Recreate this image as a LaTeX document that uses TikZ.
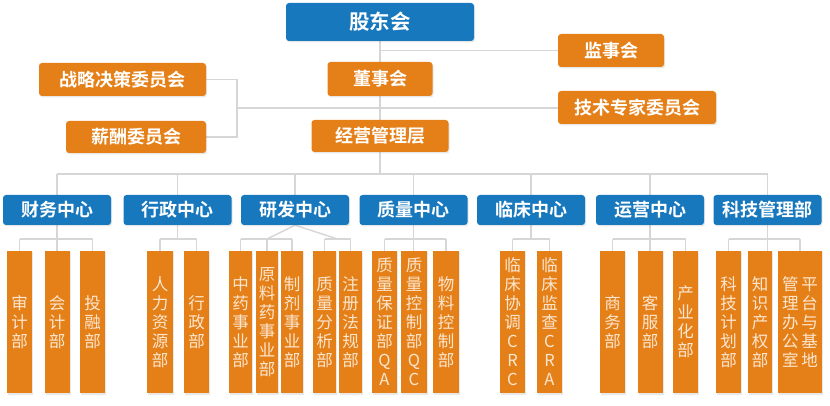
\documentclass[tikz,border=0pt]{standalone}
\usepackage{fontspec}
\newfontfamily\cjk{Noto Sans CJK SC}[BoldFont={Noto Sans CJK SC Bold}]
\usetikzlibrary{shadows,backgrounds,calc}
\definecolor{bl}{HTML}{1878BE}
\definecolor{orb}{HTML}{E58019}
\definecolor{ln}{HTML}{D6D6D6}
\definecolor{lt}{HTML}{FCE6CF}
\begin{document}
\begin{tikzpicture}[x=1pt,y=-1pt,
  shd/.style={drop shadow={shadow xshift=1pt,shadow yshift=-1.5pt,opacity=0.18}},
  box/.style={rounded corners=3pt, inner sep=0pt, text=white, shd,
    font=\cjk\bfseries\fontsize{18}{21}\selectfont},
  bbox/.style={box, fill=bl},
  obox/.style={box, fill=orb},
  cbox/.style={bbox, minimum width=108pt, minimum height=30pt},
  sbox/.style={fill=orb, inner sep=0pt, text=lt, align=center, shd,
    font=\cjk\fontsize{16.5}{19}\selectfont, minimum height=142pt},
  conn/.style={draw=ln, line width=1.4pt}]
\useasboundingbox (0,0) rectangle (830,406);
% top level
\node[bbox, minimum width=188pt, minimum height=38pt,
  font=\cjk\bfseries\fontsize{20.5}{24}\selectfont] (gdh) at (380,22) {股东会};
\node[obox, minimum width=106pt, minimum height=33pt] (jsh) at (611,50.5) {监事会};
\node[obox, minimum width=105pt, minimum height=34pt] (dsh) at (380,79) {董事会};
\node[obox, minimum width=167pt, minimum height=33pt] (zl) at (122.5,79.5) {战略决策委员会};
\node[obox, minimum width=158pt, minimum height=33pt] (jsw) at (637,107.5) {技术专家委员会};
\node[obox, minimum width=140pt, minimum height=32pt] (xc) at (136,137) {薪酬委员会};
\node[obox, minimum width=137pt, minimum height=32pt] (jy) at (380,136) {经营管理层};
% centres
\node[cbox] (c1) at (57,210) {财务中心};
\node[cbox] (c2) at (177.5,210) {行政中心};
\node[cbox] (c3) at (295,210) {研发中心};
\node[cbox] (c4) at (413.5,210) {质量中心};
\node[cbox] (c5) at (531,210) {临床中心};
\node[cbox] (c6) at (650,210) {运营中心};
\node[cbox] (c7) at (767.5,210) {科技管理部};
% departments
\node[sbox, minimum width=25pt] (s11) at (19.5,322) {审\\计\\部};
\node[sbox, minimum width=25pt] (s12) at (57,322) {会\\计\\部};
\node[sbox, minimum width=25pt] (s13) at (92.5,322) {投\\融\\部};
\node[sbox, minimum width=26pt] (s21) at (160,322) {人\\力\\资\\源\\部};
\node[sbox, minimum width=25pt] (s22) at (196.5,322) {行\\政\\部};
\node[sbox, minimum width=23pt] (s31) at (240.5,322) {中\\药\\事\\业\\部};
\node[sbox, minimum width=22pt] (s32) at (267,322) {原\\料\\药\\事\\业\\部};
\node[sbox, minimum width=22pt] (s33) at (292,322) {制\\剂\\事\\业\\部};
\node[sbox, minimum width=23pt] (s34) at (324.5,322) {质\\量\\分\\析\\部};
\node[sbox, minimum width=23pt] (s35) at (350.5,322) {注\\册\\法\\规\\部};
\node[sbox, minimum width=25pt] (s41) at (384.5,322) {质\\量\\保\\证\\部\\Q\\A};
\node[sbox, minimum width=26pt] (s42) at (414,322) {质\\量\\控\\制\\部\\Q\\C};
\node[sbox, minimum width=26pt] (s43) at (446,322) {物\\料\\控\\制\\部};
\node[sbox, minimum width=25pt] (s51) at (512.5,322) {临\\床\\协\\调\\C\\R\\C};
\node[sbox, minimum width=25pt] (s52) at (549.5,322) {临\\床\\监\\查\\C\\R\\A};
\node[sbox, minimum width=25pt] (s61) at (612.5,322) {商\\务\\部};
\node[sbox, minimum width=25pt] (s62) at (650,322) {客\\服\\部};
\node[sbox, minimum width=25pt] (s63) at (685.5,322) {产\\业\\化\\部};
\node[sbox, minimum width=25pt] (s71) at (728.5,322) {科\\技\\计\\划\\部};
\node[sbox, minimum width=24pt] (s72) at (760,322) {知\\识\\产\\权\\部};
\node[sbox, minimum width=44pt] (s73) at (800,322) {管\,平\\理\,台\\办\,与\\公\,基\\室\,地};
% connectors
\coordinate (bus) at (0,174);
\coordinate (yb) at (0,239);
\coordinate (cm) at (237,108);
\begin{scope}[on background layer]
\draw[conn] (gdh.south) -- (gdh.south |- bus);
\draw[conn] (gdh.south |- jsh.west) -- (jsh.west);
\draw[conn] (zl.east) -| (cm) |- (xc.east);
\draw[conn] (cm) -- (cm -| jsw.west);
\draw[conn] (c1.north |- bus) -- (c7.north |- bus);
\foreach \c in {c1,c2,c3,c4,c5,c6,c7}
  \draw[conn] (\c.north) -- (\c.north |- bus);
% finance
\draw[conn] (c1.south) -- (c1.south |- s12.north);
\draw[conn] (s11.north |- yb) -- (s13.north |- yb);
\foreach \s in {s11,s13} \draw[conn] (\s.north) -- (\s.north |- yb);
% admin
\draw[conn] (c2.south) -- (c2.south |- yb);
\draw[conn] (s21.north |- yb) -- (s22.north |- yb);
\foreach \s in {s21,s22} \draw[conn] (\s.north) -- (\s.north |- yb);
% R&D
\coordinate (r1) at (s32.north |- yb);
\coordinate (r2) at ($(s34.north |- yb)!0.5!(s35.north |- yb)$);
\draw[conn] (r1) -- (c3.south) -- (r2);
\draw[conn] (s31.north |- yb) -- (s33.north |- yb);
\draw[conn] (s34.north |- yb) -- (s35.north |- yb);
\foreach \s in {s31,s32,s33,s34,s35} \draw[conn] (\s.north) -- (\s.north |- yb);
% quality
\draw[conn] (c4.south) -- (c4.south |- s42.north);
\draw[conn] (s41.north |- yb) -- (s43.north |- yb);
\foreach \s in {s41,s43} \draw[conn] (\s.north) -- (\s.north |- yb);
% clinical
\draw[conn] (c5.south) -- (c5.south |- yb);
\draw[conn] (s51.north |- yb) -- (s52.north |- yb);
\foreach \s in {s51,s52} \draw[conn] (\s.north) -- (\s.north |- yb);
% operations
\draw[conn] (c6.south) -- (c6.south |- s62.north);
\draw[conn] (s61.north |- yb) -- (s63.north |- yb);
\foreach \s in {s61,s63} \draw[conn] (\s.north) -- (\s.north |- yb);
% tech
\draw[conn] (c7.south) -- (c7.south |- s72.north);
\draw[conn] (s71.north |- yb) -- (s73.north |- yb);
\foreach \s in {s71,s73} \draw[conn] (\s.north) -- (\s.north |- yb);
\end{scope}
\end{tikzpicture}
\end{document}
